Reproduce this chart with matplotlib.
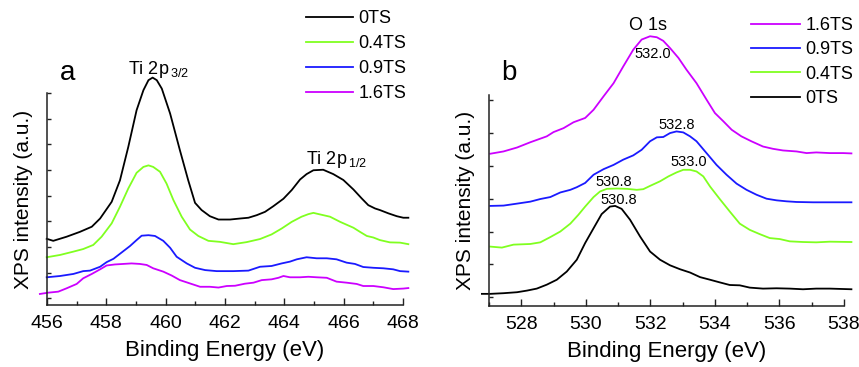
import numpy as np
import matplotlib
matplotlib.use("Agg")
import matplotlib.pyplot as plt
from matplotlib.ticker import MultipleLocator

plt.rcParams['font.family'] = ['Liberation Sans', 'DejaVu Sans']

# ---------------- Panel a: Ti 2p ----------------
ti_0_E = [455.99, 456.21, 456.66, 457.11, 457.51, 457.79, 458.18, 458.46, 458.74, 459.02,
          459.25, 459.42, 459.56, 459.70, 459.87, 460.15, 460.48, 460.76, 460.99, 461.21,
          461.49, 461.78, 462.17, 462.51, 462.79, 463.07, 463.35, 463.63, 463.97, 464.25,
          464.53, 464.75, 464.98, 465.31, 465.65, 465.99, 466.33, 466.61, 466.83, 467.06,
          467.22, 467.51, 467.79, 468.01, 468.18]
ti_0_I = [2.32, 2.24, 2.40, 2.59, 2.79, 3.11, 3.76, 4.60, 5.90, 7.33,
          8.11, 8.50, 8.60, 8.50, 8.17, 7.20, 5.77, 4.60, 3.72, 3.44,
          3.20, 3.07, 3.07, 3.11, 3.14, 3.24, 3.37, 3.59, 3.88, 4.22,
          4.63, 4.84, 4.99, 5.01, 4.84, 4.61, 4.24, 3.89, 3.63, 3.50,
          3.44, 3.31, 3.20, 3.14, 3.14]

ti_04_E = [455.99, 456.44, 456.89, 457.22, 457.56, 457.84, 458.18, 458.46, 458.74, 459.02,
           459.25, 459.42, 459.58, 459.81, 460.03, 460.26, 460.54, 460.82, 461.10, 461.44,
           461.83, 462.28, 462.73, 463.18, 463.57, 463.91, 464.25, 464.58, 464.81, 464.98,
           465.20, 465.54, 465.88, 466.33, 466.55, 466.78, 467.00, 467.22, 467.56, 467.90,
           468.18]
ti_04_I = [1.60, 1.69, 1.82, 1.92, 2.08, 2.40, 2.92, 3.57, 4.28, 4.89,
           5.12, 5.18, 5.12, 4.93, 4.47, 3.83, 3.18, 2.68, 2.43, 2.24,
           2.20, 2.11, 2.19, 2.31, 2.49, 2.72, 2.98, 3.18, 3.28, 3.33,
           3.27, 3.18, 2.98, 2.75, 2.59, 2.43, 2.37, 2.27, 2.18, 2.17,
           2.11]

ti_09_E = [455.99, 456.44, 456.89, 457.22, 457.45, 457.79, 458.01, 458.24, 458.52, 458.80,
           459.02, 459.19, 459.42, 459.64, 459.92, 460.15, 460.37, 460.71, 460.99, 461.33,
           461.72, 462.28, 462.79, 463.18, 463.57, 463.91, 464.19, 464.42, 464.75, 465.09,
           465.43, 465.76, 466.10, 466.38, 466.66, 467.00, 467.34, 467.67, 467.90, 468.18]
ti_09_I = [0.82, 0.87, 0.95, 1.06, 1.08, 1.23, 1.41, 1.54, 1.79, 2.04,
           2.27, 2.44, 2.46, 2.43, 2.24, 1.97, 1.62, 1.36, 1.19, 1.10,
           1.06, 1.06, 1.08, 1.23, 1.26, 1.36, 1.43, 1.52, 1.60, 1.56,
           1.56, 1.52, 1.39, 1.34, 1.22, 1.19, 1.17, 1.13, 1.06, 1.04]

ti_16_E = [455.76, 456.04, 456.38, 456.66, 457.00, 457.22, 457.51, 457.79, 458.01, 458.29,
           458.57, 458.85, 459.13, 459.36, 459.58, 459.92, 460.20, 460.48, 460.82, 461.16,
           461.49, 461.78, 462.06, 462.34, 462.67, 462.96, 463.24, 463.57, 463.80, 463.97,
           464.19, 464.53, 464.81, 465.09, 465.43, 465.76, 466.10, 466.44, 466.66, 467.00,
           467.34, 467.67, 468.01, 468.18]
ti_16_I = [0.17, 0.22, 0.26, 0.39, 0.56, 0.78, 0.95, 1.13, 1.28, 1.32,
           1.34, 1.36, 1.34, 1.30, 1.17, 1.04, 0.89, 0.71, 0.58, 0.45,
           0.45, 0.42, 0.48, 0.49, 0.57, 0.61, 0.71, 0.74, 0.80, 0.87,
           0.82, 0.82, 0.84, 0.82, 0.80, 0.65, 0.61, 0.56, 0.48, 0.48,
           0.43, 0.36, 0.38, 0.40]

# ---------------- Panel b: O 1s ----------------
o_16_E = [527.04, 527.45, 527.87, 528.28, 528.79, 529.00, 529.31, 529.62, 529.98, 530.24,
          530.55, 530.86, 531.16, 531.47, 531.73, 531.99, 532.20, 532.40, 532.61, 532.87,
          533.12, 533.43, 533.74, 534.00, 534.26, 534.52, 534.82, 535.13, 535.49, 535.80,
          536.11, 536.53, 536.84, 537.14, 537.56, 537.97, 538.23]
o_16_I = [4.37, 4.44, 4.56, 4.72, 4.90, 5.03, 5.15, 5.33, 5.46, 5.71,
          6.12, 6.52, 7.03, 7.54, 7.85, 7.95, 7.92, 7.81, 7.59, 7.29,
          6.93, 6.52, 6.02, 5.61, 5.36, 5.10, 4.90, 4.75, 4.59, 4.52,
          4.47, 4.44, 4.39, 4.41, 4.39, 4.39, 4.38]

o_09_E = [527.04, 527.45, 527.87, 528.28, 528.59, 528.90, 529.21, 529.52, 529.72, 529.98,
          530.24, 530.55, 530.86, 531.16, 531.47, 531.73, 531.99, 532.20, 532.40, 532.61,
          532.81, 533.02, 533.23, 533.43, 533.74, 534.05, 534.36, 534.67, 534.98, 535.29,
          535.60, 535.91, 536.22, 536.53, 537.04, 537.56, 538.23]
o_09_I = [2.78, 2.79, 2.85, 2.91, 2.99, 3.05, 3.19, 3.27, 3.35, 3.48,
          3.73, 3.90, 4.03, 4.19, 4.32, 4.49, 4.75, 4.87, 4.88, 5.00,
          5.05, 5.02, 4.90, 4.75, 4.39, 4.03, 3.73, 3.46, 3.27, 3.12,
          3.00, 2.95, 2.92, 2.90, 2.89, 2.89, 2.89]

o_04_E = [527.04, 527.40, 527.76, 528.28, 528.59, 528.90, 529.21, 529.52, 529.77, 529.98,
          530.24, 530.44, 530.65, 530.96, 531.27, 531.58, 531.78, 531.99, 532.30, 532.56,
          532.81, 533.02, 533.23, 533.43, 533.64, 533.85, 534.15, 534.46, 534.77, 535.08,
          535.39, 535.70, 536.01, 536.32, 536.73, 537.14, 537.56, 538.23]
o_04_I = [1.54, 1.51, 1.60, 1.62, 1.67, 1.83, 2.00, 2.24, 2.51, 2.76,
          3.05, 3.22, 3.30, 3.31, 3.30, 3.27, 3.29, 3.39, 3.53, 3.68,
          3.80, 3.88, 3.88, 3.83, 3.68, 3.37, 2.99, 2.61, 2.24, 2.05,
          1.92, 1.80, 1.77, 1.70, 1.68, 1.67, 1.69, 1.68]

o_0_E = [526.78, 527.04, 527.45, 527.87, 528.18, 528.48, 528.79, 529.10, 529.41, 529.72,
         529.98, 530.24, 530.49, 530.75, 530.91, 531.11, 531.37, 531.68, 531.99, 532.30,
         532.61, 532.92, 533.23, 533.54, 533.85, 534.15, 534.46, 534.77, 535.08, 535.49,
         535.91, 536.32, 536.73, 537.14, 537.56, 538.23]
o_0_I = [0.10, 0.10, 0.12, 0.15, 0.20, 0.26, 0.38, 0.53, 0.78, 1.14,
         1.65, 2.10, 2.53, 2.76, 2.78, 2.69, 2.36, 1.85, 1.39, 1.14,
         0.97, 0.85, 0.75, 0.61, 0.53, 0.45, 0.37, 0.36, 0.29, 0.26,
         0.27, 0.26, 0.24, 0.26, 0.26, 0.24]

labels_a = ['0TS', '0.4TS', '0.9TS', '1.6TS']
labels_b = ['1.6TS', '0.9TS', '0.4TS', '0TS']
c_black, c_green, c_blue, c_mag = '#000000', '#80FF20', '#1A1AFF', '#CC00FF'

fig = plt.figure(figsize=(8.59, 3.67), dpi=100)
H = 367.0
W = 859.0
axA = fig.add_axes([47 / W, 1 - 305 / H, (403 - 47) / W, (305 - 93) / H])
axB = fig.add_axes([489 / W, 1 - 306 / H, (844 - 489) / W, (306 - 95) / H])

lw = 1.3
la = []
la += axA.plot(ti_0_E, ti_0_I, color=c_black, lw=lw, clip_on=False)
la += axA.plot(ti_04_E, ti_04_I, color=c_green, lw=lw, clip_on=False)
la += axA.plot(ti_09_E, ti_09_I, color=c_blue, lw=lw, clip_on=False)
la += axA.plot(ti_16_E, ti_16_I, color=c_mag, lw=lw, clip_on=False)

lb = []
lb += axB.plot(o_16_E, o_16_I, color=c_mag, lw=lw, clip_on=False)
lb += axB.plot(o_09_E, o_09_I, color=c_blue, lw=lw, clip_on=False)
lb += axB.plot(o_04_E, o_04_I, color=c_green, lw=lw, clip_on=False)
lb += axB.plot(o_0_E, o_0_I, color=c_black, lw=lw, clip_on=False)

axA.set_xlim(456, 468)
axA.set_ylim(-0.26, 8.0)
axB.set_xlim(527, 538)
axB.set_ylim(-0.27, 6.16)

for ax in (axA, axB):
    for s in ('top', 'right'):
        ax.spines[s].set_visible(False)
    for s in ('left', 'bottom'):
        ax.spines[s].set_linewidth(1.1)
        ax.spines[s].set_color('#222222')
    ax.xaxis.set_major_locator(MultipleLocator(2))
    ax.xaxis.set_minor_locator(MultipleLocator(1))
    ax.yaxis.set_major_locator(MultipleLocator(1))
    ax.tick_params(axis='x', which='major', direction='in', length=5, width=1.0,
                   labelsize=14, pad=7, color='#222222')
    ax.tick_params(axis='x', which='minor', direction='in', length=3, width=1.0, color='#222222')
    ax.tick_params(axis='y', which='major', direction='in', length=3, width=1.0,
                   labelleft=False, color='#222222')
    ax.set_xlabel('Binding Energy (eV)', fontsize=16, labelpad=6)
    ax.set_ylabel('XPS intensity (a.u.)', fontsize=15, labelpad=10)
    ax.set_facecolor('none')

# Legends
legA = fig.legend(la, labels_a, loc='upper left', bbox_to_anchor=(299 / W, 1 - 3 / H),
                  frameon=False, fontsize=13, handlelength=2.6, handletextpad=0.3,
                  labelspacing=0.44, borderaxespad=0)
legB = fig.legend(lb, labels_b, loc='upper left', bbox_to_anchor=(744 / W, 1 - 10 / H),
                  frameon=False, fontsize=13, handlelength=2.7, handletextpad=0.3,
                  labelspacing=0.4, borderaxespad=0)

# Panel letters and annotations
fig.text(68 / W, 1 - 73 / H, 'a', fontsize=20, ha='center', va='center')
fig.text(509 / W, 1 - 73 / H, 'b', fontsize=20, ha='center', va='center')

fig.text(128 / W, 1 - 70 / H, r'Ti 2p$_{\,\mathregular{3/2}}$', fontsize=13, ha='left', va='center')
fig.text(306 / W, 1 - 160 / H, r'Ti 2p$_{\,\mathregular{1/2}}$', fontsize=13, ha='left', va='center')

fig.text(648 / W, 1 - 25 / H, 'O 1s', fontsize=13, ha='center', va='center')
fig.text(653 / W, 1 - 54 / H, '532.0', fontsize=10.5, ha='center', va='center')
fig.text(677 / W, 1 - 125 / H, '532.8', fontsize=10.5, ha='center', va='center')
fig.text(689 / W, 1 - 162 / H, '533.0', fontsize=10.5, ha='center', va='center')
fig.text(614 / W, 1 - 182 / H, '530.8', fontsize=10.5, ha='center', va='center')
fig.text(619 / W, 1 - 200 / H, '530.8', fontsize=10.5, ha='center', va='center')

fig.savefig('out.png', dpi=100)
